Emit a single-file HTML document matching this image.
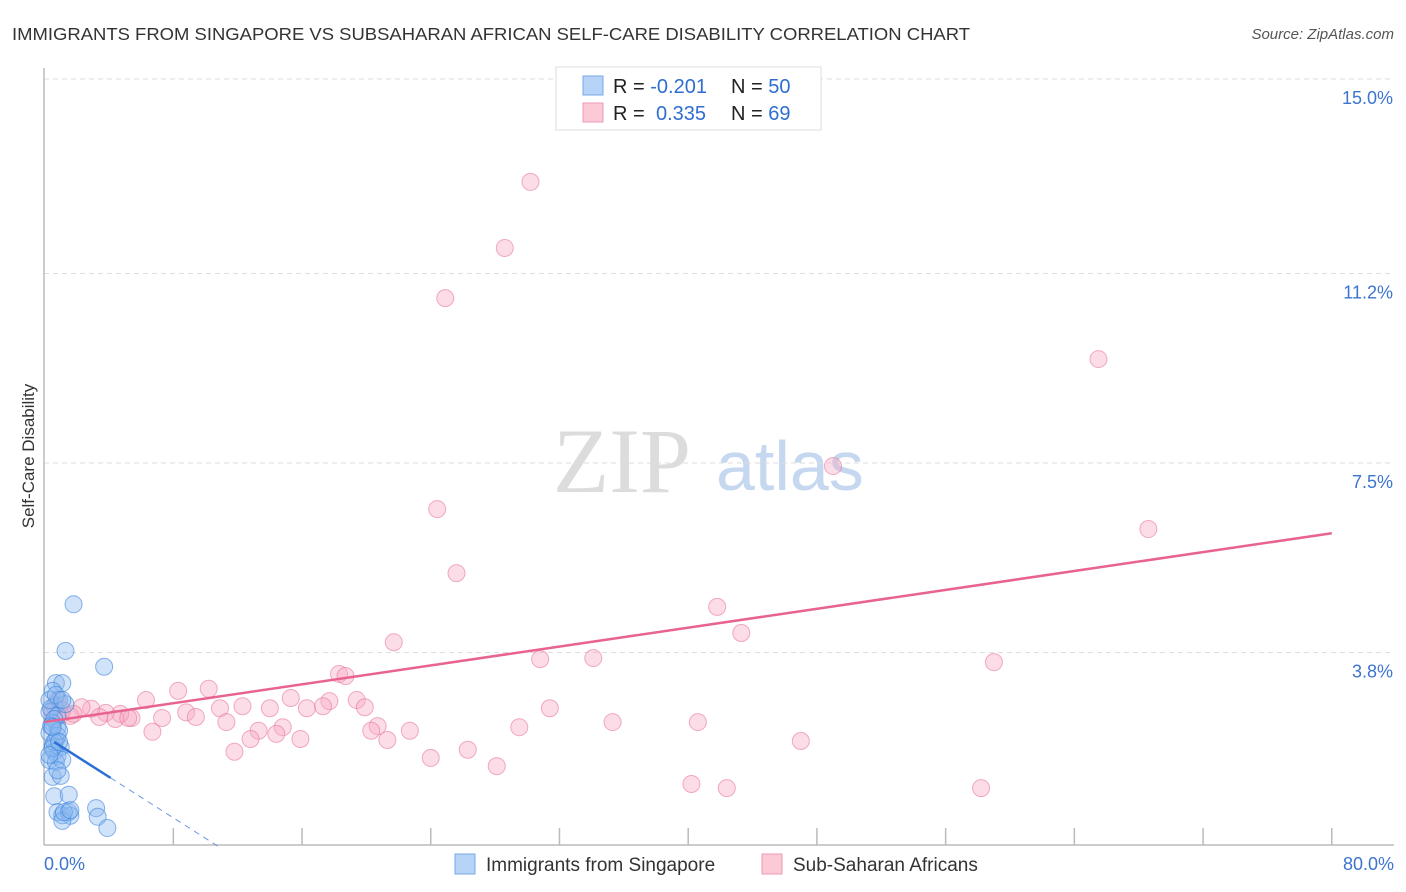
<!DOCTYPE html>
<html><head><meta charset="utf-8"><style>
body{margin:0;background:#fff;font-family:"Liberation Sans",sans-serif;}
svg{display:block}
</style></head><body>
<svg id="c" width="1406" height="892" viewBox="0 0 1406 892" xmlns="http://www.w3.org/2000/svg">
<text x="12" y="40" font-size="17.5" fill="#333" textLength="958" lengthAdjust="spacingAndGlyphs">IMMIGRANTS FROM SINGAPORE VS SUBSAHARAN AFRICAN SELF-CARE DISABILITY CORRELATION CHART</text>
<text x="1394" y="39" font-size="15" fill="#555" font-style="italic" text-anchor="end">Source: ZipAtlas.com</text>
<text x="34" y="456" font-size="17" fill="#333" text-anchor="middle" transform="rotate(-90 34 456)">Self-Care Disability</text>
<g>
<text x="553" y="492" font-size="92" font-family="Liberation Serif,serif" fill="#dcdcdc">ZIP</text>
<text x="716" y="490" font-size="70" fill="#c5d8f0">atlas</text>
</g>
<g id="grid"></g>
<g id="axes"></g>
<g id="pts"></g>
<g id="lines"></g>
<g>
<rect x="556" y="67" width="265" height="63" fill="#fff" stroke="#ddd"/>
<rect x="583" y="76" width="20" height="19" fill="#b7d3f7" stroke="#7aaae8"/>
<rect x="583" y="103" width="20" height="19" fill="#fcc9d7" stroke="#ee9ab3"/>
<text x="613" y="93" font-size="20" fill="#222">R = <tspan fill="#2f6ed0">-0.201</tspan><tspan x="731">N = </tspan><tspan fill="#2f6ed0">50</tspan></text>
<text x="613" y="120" font-size="20" fill="#222">R = <tspan x="656" fill="#2f6ed0">0.335</tspan><tspan x="731">N = </tspan><tspan fill="#2f6ed0">69</tspan></text>
</g>
<g>
<rect x="455" y="854" width="20" height="20" fill="#b7d3f7" stroke="#7aaae8"/>
<text x="486" y="871" font-size="19" fill="#333">Immigrants from Singapore</text>
<rect x="762" y="854" width="20" height="20" fill="#fcc9d7" stroke="#ee9ab3"/>
<text x="793" y="871" font-size="19" fill="#333">Sub-Saharan Africans</text>
</g>
</svg>
<script>
const yTicks=[15.0,11.2,7.5,3.8];
const yTickLabels=["15.0%","11.2%","7.5%","3.8%"];
const xTickVals=[8,16,24,32,40,48,56,64,72,80];
const xEndLabels=["0.0%","80.0%"];
const pinkX=[30.2,28.6,24.9,65.5,49.0,68.6,24.4,25.6,41.8,43.3,21.7,59.0,30.8,34.1,18.3,18.7,8.3,10.2,6.3,15.3,17.7,19.4,17.3,19.9,12.3,14.0,16.3,10.9,31.4,35.3,40.6,8.8,7.3,9.4,11.3,14.8,20.7,22.7,29.5,20.3,6.7,13.3,14.4,12.8,15.9,21.3,47.0,11.8,26.3,24.0,28.1,40.2,42.4,58.2,5.4,4.7,3.8,2.9,2.3,1.6,1.0,0.7,0.5,0.8,1.1,1.8,3.4,4.4,5.2];
const pinkY=[12.99,11.70,10.72,9.53,7.44,6.21,6.60,5.35,4.69,4.18,4.00,3.61,3.67,3.69,3.38,3.34,3.05,3.09,2.87,2.91,2.85,2.87,2.75,2.73,2.75,2.71,2.71,2.71,2.71,2.44,2.44,2.63,2.52,2.54,2.44,2.34,2.36,2.27,2.34,2.27,2.25,2.27,2.21,2.11,2.11,2.09,2.07,1.86,1.90,1.74,1.58,1.23,1.15,1.15,2.52,2.60,2.62,2.70,2.73,2.56,2.58,2.77,2.64,2.87,2.67,2.60,2.54,2.50,2.52];
const blueX=[1.8,1.3,3.7,0.7,1.1,0.5,0.9,0.6,0.3,0.4,0.8,0.5,0.8,0.3,0.7,0.5,1.0,0.6,0.8,0.3,0.7,1.1,0.5,1.0,0.6,1.5,0.8,1.1,1.5,3.2,3.3,1.6,3.9,1.1,0.6,0.4,0.8,0.5,0.9,1.3,0.3,0.7,1.1,0.6,0.3,0.8,1.2,1.6,0.5,0.9];
const blueY=[4.74,3.83,3.52,3.20,3.20,3.05,2.87,2.75,2.64,2.71,2.56,2.42,2.34,2.23,2.09,1.97,1.95,1.86,1.78,1.70,1.66,1.70,1.37,1.39,0.99,1.02,0.68,0.62,0.68,0.76,0.59,0.61,0.37,0.51,2.50,2.36,2.17,1.93,2.27,2.79,2.87,2.97,2.87,2.05,1.80,1.50,0.68,0.72,2.34,2.05];
const pinkFit=[2.44,0.0461];
const blueFit=[2.17,-0.2];
const blueSolidEnd=4.1;
const sx=v=>44.6+v*16.09, sy=v=>847-v*51.2;
const NS="http://www.w3.org/2000/svg";
function mk(p,t,a){const e=document.createElementNS(NS,t);for(const k in a)e.setAttribute(k,a[k]);document.getElementById(p).appendChild(e);return e;}
yTicks.forEach((v,i)=>{
 const g=mk('grid','line',{x1:44,x2:1394,y1:sy(v),y2:sy(v),stroke:'#ddd','stroke-dasharray':'5,4'});
 
 
 const t=mk('grid','text',{x:1393,y:sy(v)+25,'font-size':18,fill:'#3d74cf','text-anchor':'end'});
 t.textContent=yTickLabels[i];
 
 
});
let a=mk('axes','line',{x1:44,x2:44,y1:68,y2:845,stroke:'#bbb','stroke-width':1.5});


a=mk('axes','line',{x1:44,x2:1394,y1:845,y2:845,stroke:'#bbb','stroke-width':1.5});


xTickVals.forEach(v=>{
 const t=mk('axes','line',{x1:sx(v),x2:sx(v),y1:828,y2:845,stroke:'#bbb','stroke-width':1.5});
 
 
});
[[0,'start',44],[80,'end',1394]].forEach((d,i)=>{
 const t=mk('axes','text',{x:d[2],y:870,'font-size':18,fill:'#3d74cf','text-anchor':d[1]});
 t.textContent=xEndLabels[i];
 
 
});
pinkX.forEach((x,i)=>{
 const c=mk('pts','circle',{cx:sx(x),cy:sy(pinkY[i]),r:8.5,fill:'rgba(248,170,195,0.4)',stroke:'rgba(232,120,155,0.6)','stroke-width':1});
 
 
});
blueX.forEach((x,i)=>{
 const c=mk('pts','circle',{cx:sx(x),cy:sy(blueY[i]),r:8.5,fill:'rgba(140,185,240,0.4)',stroke:'rgba(60,130,220,0.6)','stroke-width':1});
 
 
});
let l=mk('lines','line',{x1:sx(0),y1:sy(pinkFit[0]),x2:sx(80),y2:sy(pinkFit[0]+pinkFit[1]*80),stroke:'#e8638f','stroke-width':2.5});


l=mk('lines','line',{x1:sx(0.6),y1:sy(blueFit[0]+blueFit[1]*0.6),x2:sx(blueSolidEnd),y2:sy(blueFit[0]+blueFit[1]*blueSolidEnd),stroke:'#2a6fd6','stroke-width':2.5});


const xz=-blueFit[0]/blueFit[1];
l=mk('lines','line',{x1:sx(blueSolidEnd),y1:sy(blueFit[0]+blueFit[1]*blueSolidEnd),x2:sx(xz),y2:sy(0),stroke:'#6b97dd','stroke-width':1,'stroke-dasharray':'6,5'});


</script>
</body></html>
